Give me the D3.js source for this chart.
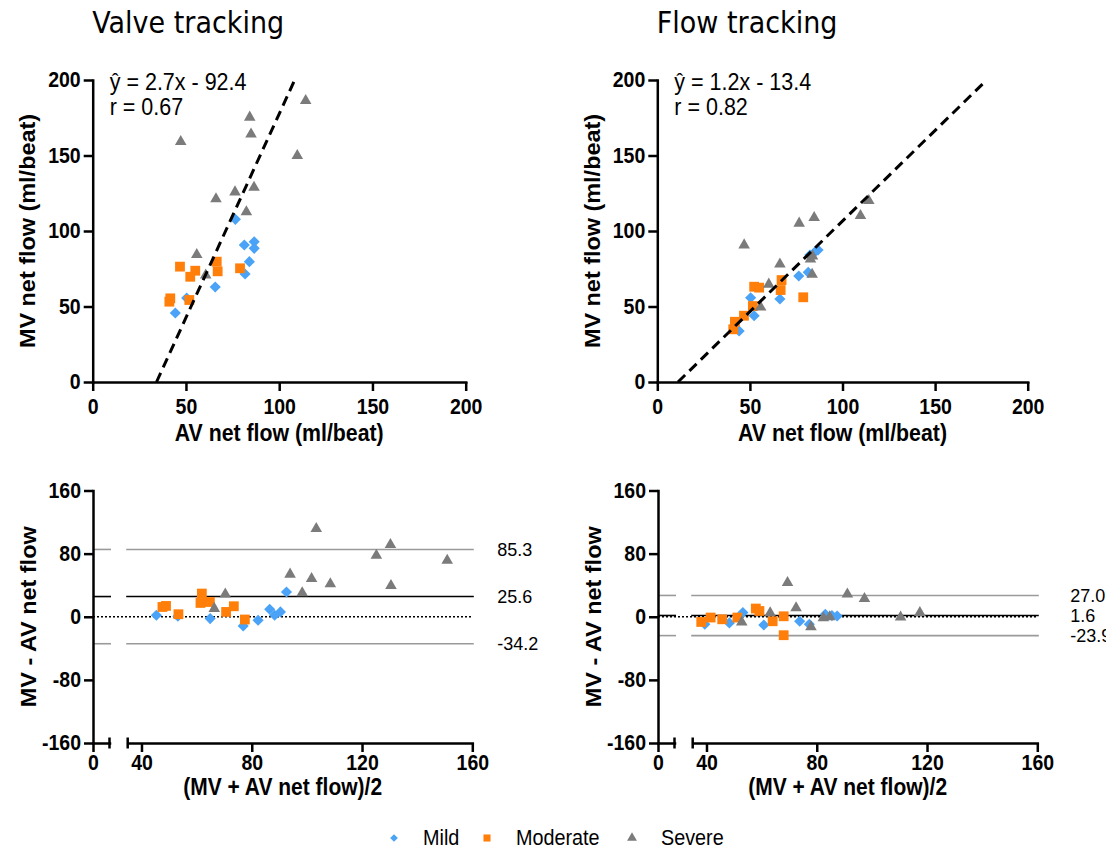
<!DOCTYPE html>
<html>
<head>
<meta charset="utf-8">
<script src="https://cdn.jsdelivr.net/npm/d3@7"></script>
<style>
  body { margin: 0; background: #fff; }
  svg { display: block; }
</style>
</head>
<body>
<div id="chart"></div>
<script>
// ---- values ----

// top row: MV vs AV net flow (ml/beat)
const valveMildAV = [76.5, 81.3, 86.6, 86.6, 84.0, 81.7, 65.7, 50.4, 44.3];
const valveMildMV = [107.7, 90.7, 92.9, 88.5, 79.7, 71.5, 62.9, 55.6, 45.7];
const valveModAV = [46.8, 55.0, 52.3, 66.5, 67.0, 79.0, 41.6, 41.1, 51.8];
const valveModMV = [76.4, 73.7, 69.7, 79.7, 73.3, 75.3, 55.4, 53.2, 54.3];
const valveSevAV = [114.2, 84.2, 84.9, 47.2, 109.7, 86.5, 76.3, 66.1, 82.4, 55.8, 60.6];
const valveSevMV = [186.3, 175.3, 164.2, 159.1, 149.9, 128.9, 125.8, 121.2, 112.6, 84.3, 70.7];

const flowMildAV = [86.8, 82.4, 85.0, 76.4, 81.5, 66.2, 50.4, 52.3, 44.2];
const flowMildMV = [87.4, 84.1, 86.0, 70.2, 72.6, 55.0, 55.8, 43.9, 33.8];
const flowModAV = [67.1, 66.6, 52.3, 55.0, 78.8, 51.6, 46.8, 41.9, 41.0];
const flowModMV = [67.5, 60.9, 63.1, 62.5, 56.1, 50.3, 43.9, 39.9, 34.9];
const flowSevAV = [114.2, 109.7, 76.6, 84.7, 46.9, 83.8, 82.7, 66.2, 83.6, 60.2, 55.8];
const flowSevMV = [120.1, 110.1, 105.1, 108.8, 90.7, 83.4, 81.3, 78.1, 71.3, 64.7, 49.5];

// regression lines: [slope, intercept, r]
const valveFit = [2.7, -92.4, 0.67];
const flowFit = [1.2, -13.4, 0.82];

// bottom row: Bland-Altman, mean vs difference
const valveMildMean = [92.6, 86.5, 88.3, 90.4, 82.3, 76.9, 64.9, 53.2, 45.4];
const valveMildDiff = [31.4, 9.5, 1.9, 6.1, -4.4, -11.6, -2.3, 0.6, 1.9];
const valveModMean = [61.9, 61.4, 64.8, 73.5, 70.7, 77.5, 47.6, 48.9, 53.4];
const valveModDiff = [29.4, 17.5, 18.7, 13.3, 6.1, -3.5, 12.4, 13.7, 3.2];
const valveSevMean = [103.4, 130.3, 125.2, 150.9, 93.9, 101.7, 108.5, 130.5, 98.3, 70.4, 66.4];
const valveSevDiff = [111.6, 91.4, 77.8, 71.5, 53.8, 48.3, 41.5, 39.5, 30.1, 28.5, 10.4];

const flowMildMean = [53.2, 83.1, 85.5, 87.4, 73.8, 77.3, 60.8, 48.3, 39.4];
const flowMildDiff = [5.3, 3.2, 1.5, 1.0, -5.7, -9.5, -10.4, -7.8, -9.5];
const flowModMean = [57.9, 59.2, 68.0, 64.0, 51.2, 45.7, 41.5, 38.1, 68.0];
const flowModDiff = [10.4, 7.3, 0.6, -5.7, -1.0, -3.2, -1.0, -6.6, -23.4];
const flowSevMean = [69.4, 91.1, 97.3, 72.5, 63.1, 117.4, 110.4, 84.7, 82.4, 52.8, 77.9];
const flowSevDiff = [43.3, 28.5, 23.0, 11.1, 4.8, 5.3, -0.6, -0.3, -1.5, -7.0, -12.9];

// limits of agreement: [upper, mean bias, lower]
const valveLimits = [85.3, 25.6, -34.2];
const flowLimits = [27.0, 1.6, -23.9];

const topTicks = [0, 50, 100, 150, 200];
const baYTicks = [160, 80, 0, -80, -160];
const baXTicks = [40, 80, 120, 160];
const groups = ["Mild", "Moderate", "Severe"];

// ---- drawing ----
const FONT = "'Liberation Sans', Arial, sans-serif";
const SY = 1.1; // the figure is a bit taller than wide
const colors = { Mild: "#4aa3f6", Moderate: "#ff7f0a", Severe: "#7b7b7b" };

const svg = d3.select("#chart").append("svg")
    .attr("width", 1106)
    .attr("height", 850);

function symbolPath(kind, small) {
    if (kind === "Mild") return d3.symbol(d3.symbolSquare, small ? 30 : 62)();
    if (kind === "Moderate") return d3.symbol(d3.symbolSquare, small ? 50 : 96)();
    return d3.symbol(d3.symbolTriangle, small ? 42 : 58)();
}

function drawPoints(g, xs, ys, xArr, yArr, kind) {
    g.append("g").selectAll("path")
        .data(d3.zip(xArr, yArr))
        .join("path")
        .attr("transform", d => `translate(${xs(d[0])},${ys(d[1])})` + (kind === "Mild" ? " rotate(45)" : ""))
        .attr("d", symbolPath(kind, false))
        .attr("fill", colors[kind]);
}

function label(g, x, y, str, size, opts) {
    opts = opts || {};
    const sy = opts.flat ? 1 : SY;
    return g.append("text")
        .attr("transform", `translate(${x},${y}) scale(1,${sy})` + (opts.rotate ? " rotate(-90)" : ""))
        .attr("text-anchor", opts.anchor || "start")
        .style("font-family", opts.family || FONT)
        .style("font-size", size + "px")
        .style("font-weight", opts.bold ? "bold" : "normal")
        .attr("fill", "#000")
        .text(str);
}

function styleAxis(sel, textY) {
    sel.select(".domain").attr("stroke", "#000").attr("stroke-width", 2.5).attr("stroke-linecap", "square");
    sel.selectAll(".tick line").attr("stroke", "#000").attr("stroke-width", 2.5);
    sel.selectAll(".tick text")
        .attr("fill", "#000")
        .style("font-family", FONT)
        .style("font-size", "19.5px")
        .style("font-weight", "bold")
        .attr("transform", `scale(1,${SY})`);
    if (textY != null) sel.selectAll(".tick text").attr("y", textY).attr("dy", 0);
}

function scatterPanel(x0, x1, title, fit, sets) {
    const x = d3.scaleLinear().domain([0, 200]).range([x0, x1]);
    const y = d3.scaleLinear().domain([0, 200]).range([382, 80]);
    const g = svg.append("g");

    const gx = g.append("g")
        .attr("transform", `translate(0,${y(0)})`)
        .call(d3.axisBottom(x).tickValues(topTicks).tickSize(9).tickSizeOuter(0).tickFormat(d3.format("d")));
    styleAxis(gx, 29);

    const gy = g.append("g")
        .attr("transform", `translate(${x0},0)`)
        .call(d3.axisLeft(y).tickValues(topTicks).tickSize(9).tickPadding(3).tickSizeOuter(0).tickFormat(d3.format("d")));
    styleAxis(gy, null);

    sets.forEach(s => drawPoints(g, x, y, s[1], s[2], s[0]));

    // regression line between y = 0 and y = 200
    const xa = (0 - fit[1]) / fit[0], xb = (200 - fit[1]) / fit[0];
    g.append("line")
        .attr("x1", x(xa)).attr("y1", y(0))
        .attr("x2", x(xb)).attr("y2", y(200))
        .attr("stroke", "#000").attr("stroke-width", 3)
        .attr("stroke-dasharray", "10,6");

    label(g, x0 + 17, 89.5, "ŷ = " + fit[0] + "x - " + Math.abs(fit[1]), 21.5);
    label(g, x0 + 17, 115, "r = " + fit[2], 21.5);

    label(g, x0 - 0.5, 33, title, 27, { family: "'DejaVu Sans', Verdana, sans-serif" });
    label(g, (x0 + x1) / 2, 441, "AV net flow (ml/beat)", 21.3, { bold: true, anchor: "middle" });
    label(g, x0 - 57.5, (y(0) + y(200)) / 2, "MV net flow (ml/beat)", 21.3, { bold: true, anchor: "middle", rotate: true });
}

function blandPanel(x0, limits, labelGap, sets) {
    const y = d3.scaleLinear().domain([-160, 160]).range([743, 490.5]);
    const xs1 = d3.scaleLinear().domain([0, 6]).range([x0, x0 + 16.5]);
    const xs2 = d3.scaleLinear().domain([35, 160]).range([x0 + 34.7, x0 + 379.3]);
    const g = svg.append("g");

    // limit lines on both axis segments
    limits.forEach((v, i) => {
        const col = i === 1 ? "#000" : "#9a9a9a";
        [[xs1(0), xs1(6) + 1.5], [xs2(35) - 1.5, xs2(160) + 1.5]].forEach(r => {
            g.append("line")
                .attr("x1", r[0]).attr("x2", r[1])
                .attr("y1", y(v)).attr("y2", y(v))
                .attr("stroke", col).attr("stroke-width", 1.6);
        });
        label(g, xs2(160) + labelGap, y(v) + 6.5, v.toFixed(1), 18, { flat: true });
    });
    g.append("line")
        .attr("x1", xs1(0)).attr("x2", xs2(160))
        .attr("y1", y(0)).attr("y2", y(0))
        .attr("stroke", "#000").attr("stroke-width", 1.5)
        .attr("stroke-dasharray", "2,2");

    // broken x axis
    const ga = g.append("g")
        .attr("transform", `translate(0,${y(-160)})`)
        .call(d3.axisBottom(xs1).tickValues([0]).tickSize(9).tickSizeOuter(0).tickFormat(d3.format("d")));
    styleAxis(ga, 25);
    const gb = g.append("g")
        .attr("transform", `translate(0,${y(-160)})`)
        .call(d3.axisBottom(xs2).tickValues(baXTicks).tickSize(9).tickSizeOuter(0).tickFormat(d3.format("d")));
    styleAxis(gb, 25);
    [xs1(6), xs2(35)].forEach(cx => {
        g.append("line")
            .attr("x1", cx).attr("x2", cx)
            .attr("y1", y(-160) - 5.5).attr("y2", y(-160) + 5.5)
            .attr("stroke", "#000").attr("stroke-width", 2.5);
    });

    const gy = g.append("g")
        .attr("transform", `translate(${x0},0)`)
        .call(d3.axisLeft(y).tickValues(baYTicks).tickSize(9).tickPadding(3).tickSizeOuter(0)
            .tickFormat(d => String(d)));
    styleAxis(gy, null);

    sets.forEach(s => drawPoints(g, xs2, y, s[1], s[2], s[0]));

    label(g, (x0 + xs2(160)) / 2, 795, "(MV + AV net flow)/2", 21, { bold: true, anchor: "middle" });
    label(g, x0 - 57.5, y(0), "MV - AV net flow", 21.3, { bold: true, anchor: "middle", rotate: true });
}

scatterPanel(92.7, 465.7, "Valve tracking", valveFit, [
    ["Mild", valveMildAV, valveMildMV],
    ["Moderate", valveModAV, valveModMV],
    ["Severe", valveSevAV, valveSevMV]
]);
scatterPanel(657.3, 1027.7, "Flow tracking", flowFit, [
    ["Mild", flowMildAV, flowMildMV],
    ["Moderate", flowModAV, flowModMV],
    ["Severe", flowSevAV, flowSevMV]
]);
blandPanel(93, valveLimits, 25, [
    ["Mild", valveMildMean, valveMildDiff],
    ["Moderate", valveModMean, valveModDiff],
    ["Severe", valveSevMean, valveSevDiff]
]);
blandPanel(658, flowLimits, 33, [
    ["Mild", flowMildMean, flowMildDiff],
    ["Moderate", flowModMean, flowModDiff],
    ["Severe", flowSevMean, flowSevDiff]
]);

// legend
const legendX = [394, 487, 632];
const leg = svg.append("g");
groups.forEach((name, i) => {
    leg.append("path")
        .attr("transform", `translate(${legendX[i]},838)` + (name === "Mild" ? " rotate(45)" : ""))
        .attr("d", symbolPath(name, true))
        .attr("fill", colors[name]);
    label(leg, legendX[i] + 29, 845, name, 19.8);
});
</script>
</body>
</html>
